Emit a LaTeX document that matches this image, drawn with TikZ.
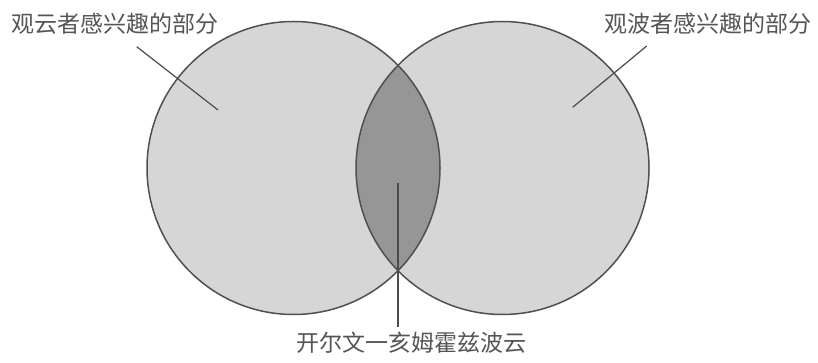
\documentclass[tikz,border=0pt]{standalone}
\usepackage{fontspec}
\newfontfamily\cjk{Noto Sans CJK SC}
\definecolor{lightfill}{RGB}{214,214,214}
\definecolor{lensfill}{RGB}{150,150,150}
\definecolor{edgegray}{RGB}{80,80,80}
\definecolor{textgray}{RGB}{85,85,85}
\definecolor{linegray}{RGB}{75,75,75}
\begin{document}
\begin{tikzpicture}[x=1pt,y=-1pt,
  region/.style={circle, fill=lightfill, minimum size=293pt, inner sep=0pt},
  outline/.style={draw=edgegray, line width=1.5pt},
  lbl/.style={font=\cjk\fontsize{23}{28}\selectfont, text=textgray, inner sep=0pt},
  leader/.style={draw=linegray, line width=1.2pt}]
\useasboundingbox[fill=white] (0,0) rectangle (818,363);
% circles
\node[region] (L) at (293.5,168) {};
\node[region] (R) at (502.5,168) {};
\begin{scope}
  \clip (L.center) circle (146.5pt);
  \fill[lensfill] (R.center) circle (146.5pt);
\end{scope}
\draw[outline] (L.center) circle (146.5pt);
\draw[outline] (R.center) circle (146.5pt);
% labels
\node[lbl] (tl) at (115,24) {观云者感兴趣的部分};
\node[lbl] (tr) at (708,24) {观波者感兴趣的部分};
\node[lbl] (tb) at (411,343) {开尔文一亥姆霍兹波云};
% leader ends
\coordinate (la) at (136.7,46.7);
\coordinate (lb) at (218,110);
\coordinate (ra) at (646.7,46);
\coordinate (rb) at (572.7,107.3);
\coordinate (mb) at (398,183);
\coordinate (me) at (398,327);
\draw[leader] (la) -- (lb);
\draw[leader] (ra) -- (rb);
\draw[leader] (mb) -- (me);
\end{tikzpicture}
\end{document}
